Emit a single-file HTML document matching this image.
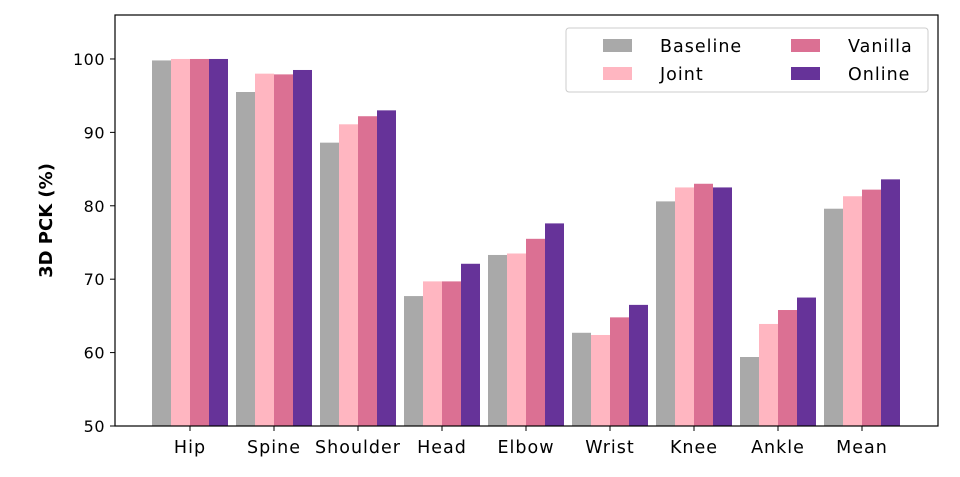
<!DOCTYPE html>
<html><head><meta charset="utf-8"><style>
body{margin:0;background:#fff;}
svg{display:block;font-family:"DejaVu Sans","Liberation Sans",sans-serif;}
</style></head><body>
<svg id="chart" width="960" height="477" viewBox="0 0 960 477">
<rect x="0" y="0" width="960" height="477" fill="#fff"/>
<g id="bars"></g>
<g id="axes"></g>
</svg>
<script>
const categories=["Hip","Spine","Shoulder","Head","Elbow","Wrist","Knee","Ankle","Mean"];
const seriesNames=["Baseline","Joint","Vanilla","Online"];
const baseline=[99.8,95.5,88.6,67.7,73.3,62.7,80.6,59.4,79.6];
const joint=[100,98.0,91.1,69.7,73.5,62.4,82.5,63.9,81.3];
const vanilla=[100,97.9,92.2,69.7,75.5,64.8,83.0,65.8,82.2];
const online=[100,98.5,93.0,72.1,77.6,66.5,82.5,67.5,83.6];
const yTicks=[50,60,70,80,90,100];
const colors=["#a9a9a9","#ffb6c1","#db7093","#663399"];
const series=[baseline,joint,vanilla,online];
const NS="http://www.w3.org/2000/svg";
const L=115,R=938,T=15,B=426;
const yMin=50,yMax=105.99;
function y(v){return B-(v-yMin)/(yMax-yMin)*(B-T);}
function xc(i){return L+75+i*84;}
const bw=19;
function mk(tag,attrs,parent){const e=document.createElementNS(NS,tag);for(const k in attrs)e.setAttribute(k,attrs[k]);parent.appendChild(e);return e;}
const gb=document.getElementById('bars'),ga=document.getElementById('axes');
series.forEach((s,si)=>{s.forEach((v,i)=>{
 const r=mk('rect',{x:xc(i)-2*bw+si*bw,y:y(v),width:bw,height:B-y(v),fill:colors[si]},gb);
 
 
});});
const frame=mk('rect',{x:L,y:T,width:R-L,height:B-T,fill:'none',stroke:'#000','stroke-width':1.2},ga);


yTicks.forEach(t=>{
 mk('line',{x1:L-5,x2:L,y1:y(t),y2:y(t),stroke:'#000'},ga);
 const tx=mk('text',{x:L-10,y:y(t)+6,'text-anchor':'end','font-size':16,'letter-spacing':0.5},ga);
 tx.textContent=t;
 
 
});
categories.forEach((c,i)=>{
 mk('line',{x1:xc(i),x2:xc(i),y1:B,y2:B+5,stroke:'#000'},ga);
 const tx=mk('text',{x:xc(i),y:B+27,'text-anchor':'middle','font-size':17.5,'letter-spacing':1},ga);
 tx.textContent=c;
 
 
});
const yt=mk('text',{x:52,y:(T+B)/2,'text-anchor':'middle','font-size':18,'font-weight':'bold',transform:'rotate(-90 52 '+((T+B)/2)+')'},ga);
yt.textContent='3D PCK (%)';


const lg=mk('g',{},ga);


mk('rect',{x:566,y:28,width:362,height:64,fill:'#fff',stroke:'#ccc',rx:3},lg);
const pos=[[0,0],[0,1],[1,0],[1,1]];
seriesNames.forEach((n,si)=>{
 const p=pos[si];
 const sx=p[0]?791:603,y0=p[1]?74:46;
 const sw=mk('rect',{x:sx,y:y0-7,width:29,height:13,fill:colors[si]},lg);
 
 
 const t=mk('text',{x:sx+57,y:y0+6,'font-size':17.5,'letter-spacing':1},lg);
 t.textContent=n;
 
 
});
</script>
</body></html>
